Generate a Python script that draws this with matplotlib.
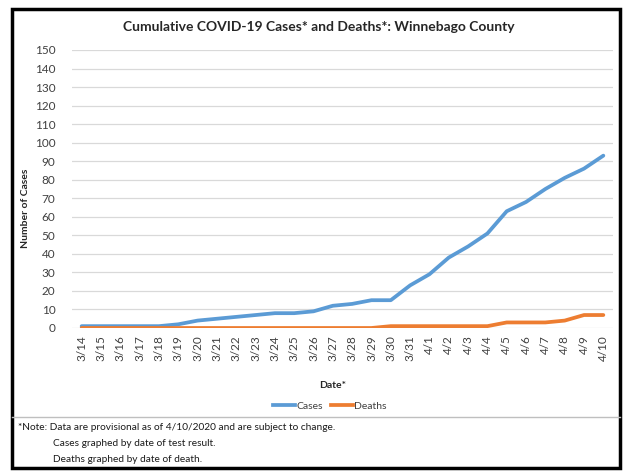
import matplotlib
matplotlib.use("Agg")
import matplotlib.pyplot as plt
from matplotlib.patches import Rectangle
from matplotlib.lines import Line2D

plt.rcParams['font.family'] = ['Lato', 'DejaVu Sans']

# data
dates = ["3/14", "3/15", "3/16", "3/17", "3/18", "3/19", "3/20", "3/21", "3/22",
         "3/23", "3/24", "3/25", "3/26", "3/27", "3/28", "3/29", "3/30", "3/31",
         "4/1", "4/2", "4/3", "4/4", "4/5", "4/6", "4/7", "4/8", "4/9", "4/10"]
cases = [1, 1, 1, 1, 1, 2, 4, 5, 6, 7, 8, 8, 9, 12, 13, 15, 15, 23,
         29, 38, 44, 51, 63, 68, 75, 81, 86, 93]
deaths = [0, 0, 0, 0, 0, 0, 0, 0, 0, 0, 0, 0, 0, 0, 0, 0, 1, 1,
          1, 1, 1, 1, 3, 3, 3, 4, 7, 7]

blue = '#5B9BD5'
orange = '#ED7D31'
W, H = 628, 472

fig = plt.figure(figsize=(W / 100, H / 100), dpi=100)
fig.patch.set_facecolor('white')

ax = fig.add_axes([72 / W, 1 - 328 / H, 541 / W, 278 / H])
x = list(range(len(dates)))
ax.plot(x, cases, color=blue, lw=2.7, solid_capstyle='round', solid_joinstyle='round', zorder=3)
ax.plot(x, deaths, color=orange, lw=2.7, solid_capstyle='round', solid_joinstyle='round', zorder=3)

ax.set_xlim(-0.5, len(dates) - 0.5)
ax.set_ylim(0, 150)
ax.set_yticks(range(0, 151, 10))
ax.set_xticks(x)
ax.set_xticklabels(dates, rotation=90, fontsize=8.5, color='#404040')
ax.tick_params(axis='y', labelsize=8.5, labelcolor='#404040', length=0, pad=12)
ax.tick_params(axis='x', length=0, pad=5)
ax.grid(axis='y', color='#D9D9D9', lw=0.9)
ax.set_axisbelow(True)
for s in ax.spines.values():
    s.set_visible(False)

fig.text(319 / W, 1 - 27 / H, "Cumulative COVID-19 Cases* and Deaths*: Winnebago County",
         ha='center', va='center', fontsize=10, fontweight='bold', color='#262626')
fig.text(26 / W, 1 - 208 / H, "Number of Cases", rotation=90, ha='center', va='center',
         fontsize=7.5, fontweight='bold', color='#262626')
fig.text(333 / W, 1 - 386 / H, "Date*", ha='center', va='center',
         fontsize=7.5, fontweight='bold', color='#262626')

handles = [Line2D([0], [0], color=blue, lw=2.7), Line2D([0], [0], color=orange, lw=2.7)]
fig.legend(handles, ["Cases", "Deaths"], loc='center', bbox_to_anchor=(330 / W, 1 - 406 / H),
           ncol=2, frameon=False, fontsize=7.5, handlelength=2.1, handletextpad=0.1,
           columnspacing=0.8, labelcolor='#404040')

# separator and note
fig.add_artist(Line2D([12 / W, 620 / W], [1 - 417 / H, 1 - 417 / H], color='#BFBFBF', lw=1))
fig.text(18 / W, 1 - 428 / H, "*Note: Data are provisional as of 4/10/2020 and are subject to change.",
         ha='left', va='center', fontsize=7.3, color='#1a1a1a')
fig.text(53 / W, 1 - 444 / H, "Cases graphed by date of test result.",
         ha='left', va='center', fontsize=7.3, color='#1a1a1a')
fig.text(53 / W, 1 - 460 / H, "Deaths graphed by date of death.",
         ha='left', va='center', fontsize=7.3, color='#1a1a1a')

# outer frame
fig.add_artist(Rectangle((12 / W, 1 - 468 / H), 608 / W, 459 / H, fill=False,
                         edgecolor='black', lw=2.5, transform=fig.transFigure))

fig.savefig("out.png", dpi=100)
